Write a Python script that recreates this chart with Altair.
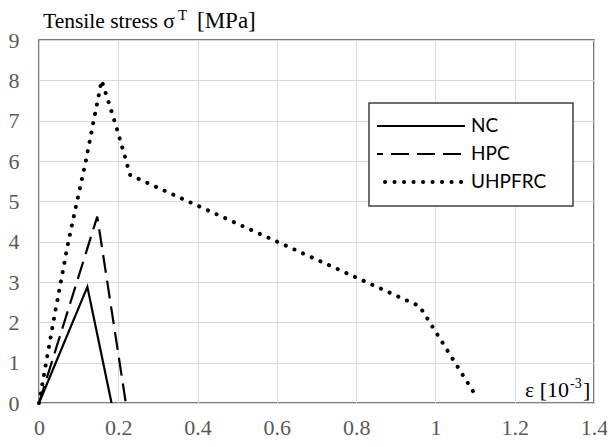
import altair as alt
import pandas as pd

# ---- data ----
nc_x = [0.0, 0.122, 0.183]
nc_y = [0.0, 2.88, 0.0]

hpc_x = [0.0, 0.147, 0.219]
hpc_y = [0.0, 4.62, 0.0]

uh_x = [0.0, 0.036, 0.074, 0.118, 0.158, 0.195, 0.230, 0.960, 1.107]
uh_y = [0.0, 2.0, 4.0, 6.0, 8.0, 6.85, 5.65, 2.40, 0.10]

x_ticks = [0, 0.2, 0.4, 0.6, 0.8, 1.0, 1.2, 1.4]
y_ticks = [0, 1, 2, 3, 4, 5, 6, 7, 8, 9]

legend_names = ["NC", "HPC", "UHPFRC"]

W, H = 555, 363
SERIF = "Liberation Serif"
SANS = "Lato"

def frame(xs, ys):
    return pd.DataFrame({"x": xs, "y": ys, "i": list(range(len(xs)))})

xs = alt.Scale(domain=[0, 1.4], nice=False, zero=False)
ys = alt.Scale(domain=[0, 9], nice=False, zero=False)

X = alt.X("x:Q", scale=xs,
          axis=alt.Axis(values=x_ticks, format="~g", title=None, grid=True,
                        domain=False, ticks=False, labelPadding=14,
                        labelFont=SERIF, labelFontSize=22, labelColor="#595959",
                        gridColor="#d9d9d9", gridWidth=1, labelFlush=False))
Y = alt.Y("y:Q", scale=ys,
          axis=alt.Axis(values=y_ticks, format="d", title=None, grid=True,
                        domain=False, ticks=False, labelPadding=20,
                        labelFont=SERIF, labelFontSize=22, labelColor="#595959",
                        gridColor="#d9d9d9", gridWidth=1))

nc = alt.Chart(frame(nc_x, nc_y)).mark_line(color="black", strokeWidth=2.2).encode(
    x=X, y=Y, order="i:Q")
hpc = alt.Chart(frame(hpc_x, hpc_y)).mark_line(
    color="black", strokeWidth=2.2, strokeDash=[18, 8]).encode(
    x=alt.X("x:Q", scale=xs), y=alt.Y("y:Q", scale=ys), order="i:Q")
uh = alt.Chart(frame(uh_x, uh_y)).mark_line(
    color="black", strokeWidth=4, strokeDash=[0.1, 9.4], strokeCap="round").encode(
    x=alt.X("x:Q", scale=xs), y=alt.Y("y:Q", scale=ys), order="i:Q")

one = pd.DataFrame({"k": [0]})

# legend box
box = alt.Chart(one).mark_rect(fill="white", stroke="#404040", strokeWidth=1.5).encode(
    x=alt.value(330), x2=alt.value(534), y=alt.value(63), y2=alt.value(166))

leg_rows = [86, 114, 142]
leg_nc = alt.Chart(one).mark_rule(color="black", strokeWidth=2.2).encode(
    x=alt.value(338), x2=alt.value(426), y=alt.value(leg_rows[0]))
leg_hpc = alt.Chart(one).mark_rule(color="black", strokeWidth=2.2,
                                   strokeDash=[18, 8], strokeDashOffset=12).encode(
    x=alt.value(338), x2=alt.value(426), y=alt.value(leg_rows[1]))
leg_uh = alt.Chart(one).mark_rule(color="black", strokeWidth=4,
                                  strokeDash=[0.1, 9.4], strokeCap="round").encode(
    x=alt.value(346), x2=alt.value(425), y=alt.value(leg_rows[2]))

leg_text = alt.Chart(pd.DataFrame({"name": legend_names, "row": leg_rows})).mark_text(
    align="left", baseline="middle", font=SANS, fontSize=19, color="black"
).encode(x=alt.value(432), y=alt.Y("row:Q", scale=None), text="name:N")

# axis titles as text
def txt(s, x, y, size=22, align="left"):
    return alt.Chart(pd.DataFrame({"t": [s]})).mark_text(
        align=align, baseline="alphabetic", font=SERIF, fontSize=size, color="black"
    ).encode(x=alt.value(x), y=alt.value(y), text="t:N")

t1 = txt("Tensile stress \u03c3", 4, -12, size=21.5)
t2 = txt("T", 139, -20, size=15)
t3 = txt("[MPa]", 158, -12, size=23)

e1 = txt("\u03b5 [10", 530, 357, align="right")
e2 = txt("-3", 531, 348, size=14)
e3 = txt("]", 544, 357)

chart = alt.layer(nc, hpc, uh, box, leg_nc, leg_hpc, leg_uh, leg_text,
                  t1, t2, t3, e1, e2, e3).properties(
    width=W, height=H,
    autosize=alt.AutoSizeParams(type="none"),
    padding={"left": 31, "top": 32, "right": 13, "bottom": 36},
).configure_view(stroke="#505050", strokeWidth=1.5)

chart.save("out.html", embed_options={"renderer": "svg", "actions": False})
